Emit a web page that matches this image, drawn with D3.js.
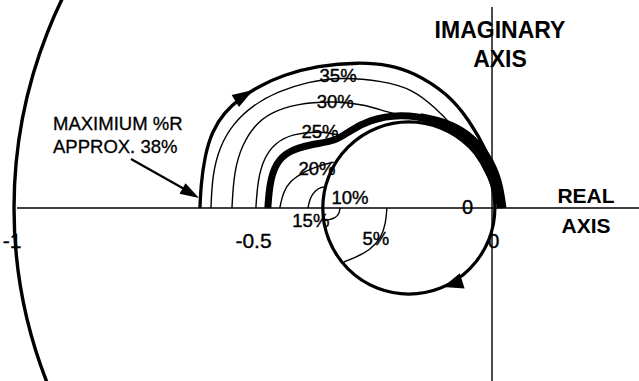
<!DOCTYPE html>
<html>
<head>
<meta charset="utf-8">
<script src="https://cdn.jsdelivr.net/npm/d3@7/dist/d3.min.js"></script>
<style>
  html, body { margin: 0; padding: 0; background: #fff; }
  svg { display: block; }
  text { font-family: "Liberation Sans", Arial, sans-serif; fill: #000; }
</style>
</head>
<body>
<svg id="chart" width="639" height="381"></svg>
<script>
// Complex-plane locus of constant %R curves, per-unit real / imaginary parts.
const tickValues = [-1, -0.5, 0];
const tickLabels = ["-1", "-0.5", "0"];

// Outer locus for the maximum %R (about 38 %).
const curve38 = [[-0.611, 0], [-0.609, 0.048], [-0.601, 0.108], [-0.586, 0.160], [-0.560, 0.200],
  [-0.527, 0.230], [-0.485, 0.256], [-0.437, 0.278], [-0.366, 0.298], [-0.276, 0.305],
  [-0.213, 0.299], [-0.165, 0.284], [-0.094, 0.241], [-0.046, 0.182], [-0.010, 0.117],
  [0.013, 0.059], [0.023, 0]];
const curve35 = [[-0.588, 0], [-0.585, 0.069], [-0.570, 0.128], [-0.542, 0.176], [-0.502, 0.214],
  [-0.448, 0.244], [-0.385, 0.264], [-0.318, 0.274], [-0.228, 0.266], [-0.165, 0.248],
  [-0.119, 0.210], [-0.080, 0.170], [-0.042, 0.125], [-0.006, 0.065], [0.015, 0]];
const curve30 = [[-0.544, 0], [-0.540, 0.075], [-0.523, 0.132], [-0.496, 0.174], [-0.464, 0.199],
  [-0.412, 0.218], [-0.328, 0.224], [-0.266, 0.216], [-0.220, 0.201], [-0.175, 0.190],
  [-0.120, 0.185]];
const curve25 = [[-0.494, 0], [-0.490, 0.059], [-0.477, 0.105], [-0.454, 0.136], [-0.418, 0.155],
  [-0.360, 0.161], [-0.312, 0.151]];
// Heavy locus of the operating characteristic.
const curveMain = [[-0.469, 0], [-0.465, 0.054], [-0.452, 0.094], [-0.427, 0.119], [-0.381, 0.133],
  [-0.326, 0.140], [-0.300, 0.160], [-0.258, 0.184], [-0.192, 0.197], [-0.123, 0.186],
  [-0.056, 0.155], [-0.012, 0.105], [0.011, 0.052], [0.017, 0]];
// Where the high-%R loci crowd together before reaching the origin.
const curveBand = [[-0.150, 0.192], [-0.100, 0.182], [-0.050, 0.158], [-0.008, 0.112],
  [0.016, 0.058], [0.024, 0]];
const curve20 = [[-0.444, 0], [-0.437, 0.033], [-0.423, 0.056], [-0.395, 0.075], [-0.364, 0.088],
  [-0.331, 0.096]];
const arc15 = [[-0.385, 0], [-0.381, 0.021], [-0.370, 0.036], [-0.358, 0.044], [-0.347, 0.044]];
const arc10 = [[-0.318, 0], [-0.320, -0.013], [-0.328, -0.021], [-0.341, -0.025], [-0.351, -0.025]];
const arc5 = [[-0.220, 0], [-0.222, -0.031], [-0.232, -0.063], [-0.255, -0.088], [-0.285, -0.103],
  [-0.310, -0.113]];

// Circle traced as the %R falls to zero.
const circleCenter = -0.174;
const circleRadius = 0.18;
// Unit circle.
const unitRadius = 1;

const W = 639, H = 381;
const svg = d3.select("#chart");

const x = d3.scaleLinear().domain([-1.0293, 0.3075]).range([0, W]);
const y = d3.scaleLinear().domain([0.4351, -0.3619]).range([0, H]);

const line = d3.line()
  .x(d => x(d[0]))
  .y(d => y(d[1]))
  .curve(d3.curveBasis);

function arrowHead(tx, ty, ang, len, halfW) {
  const dx = Math.cos(ang), dy = Math.sin(ang);
  const bx = tx - dx * len, by = ty - dy * len;
  const pts = [[tx, ty], [bx - dy * halfW, by + dx * halfW], [bx + dy * halfW, by - dx * halfW]];
  svg.append("path")
    .attr("d", "M" + pts.map(p => p.join(",")).join("L") + "Z")
    .attr("fill", "#000");
}

// Axes
svg.append("line")
  .attr("x1", x(-1) + 3).attr("x2", W)
  .attr("y1", y(0)).attr("y2", y(0))
  .attr("stroke", "#000").attr("stroke-width", 1.4);
svg.append("line")
  .attr("x1", x(0)).attr("x2", x(0))
  .attr("y1", 7).attr("y2", H)
  .attr("stroke", "#000").attr("stroke-width", 1.4);

// Tick labels on the real axis
const axis = d3.axisBottom(x)
  .tickValues(tickValues)
  .tickFormat((d, i) => tickLabels[i])
  .tickSize(0)
  .tickPadding(25);
const gAxis = svg.append("g").attr("transform", `translate(0,${y(0)})`).call(axis);
gAxis.select(".domain").remove();
gAxis.selectAll("text")
  .attr("font-size", 21)
  .style("font-family", '"Liberation Sans", Arial, sans-serif')
  .attr("fill", "#000").attr("stroke", "#000").attr("stroke-width", 0.35);
gAxis.selectAll(".tick").filter(d => d === -1).select("text").attr("dx", -2.5);
gAxis.selectAll(".tick").filter(d => d === 0).select("text").attr("dx", 1);

// Unit circle
svg.append("circle")
  .attr("cx", x(0)).attr("cy", y(0))
  .attr("r", x(unitRadius) - x(0))
  .attr("fill", "none").attr("stroke", "#000").attr("stroke-width", 3.4);

// Thin constant-%R curves
[curve35, curve30, curve25, curve20, arc15, arc10, arc5].forEach(c => {
  svg.append("path").attr("d", line(c))
    .attr("fill", "none").attr("stroke", "#000").attr("stroke-width", 1.4);
});

// Zero-%R circle
const cxp = x(circleCenter), cyp = y(0), rp = x(circleRadius) - x(0);
svg.append("circle")
  .attr("cx", cxp).attr("cy", cyp).attr("r", rp)
  .attr("fill", "none").attr("stroke", "#000").attr("stroke-width", 3.2);

// Heavy locus and the crowded band next to it
svg.append("path").attr("d", line(curveMain))
  .attr("fill", "none").attr("stroke", "#000").attr("stroke-width", 7)
  .attr("stroke-linejoin", "round");
svg.append("path").attr("d", line(curveBand))
  .attr("fill", "none").attr("stroke", "#000").attr("stroke-width", 6);

// Outer (maximum %R) locus
const outer = svg.append("path").attr("d", line(curve38))
  .attr("fill", "none").attr("stroke", "#000").attr("stroke-width", 3.3);

// Direction arrow on the outer locus
{
  const node = outer.node();
  const L = node.getTotalLength();
  const p1 = node.getPointAtLength(L * 0.29);
  const p0 = node.getPointAtLength(L * 0.29 - 4);
  arrowHead(p1.x, p1.y, Math.atan2(p1.y - p0.y, p1.x - p0.x), 21, 7);
}

// Direction arrow on the zero-%R circle (clockwise)
{
  const th = 66.5 * Math.PI / 180;
  const tx = cxp + rp * Math.cos(th), ty = cyp + rp * Math.sin(th);
  arrowHead(tx, ty, th + Math.PI / 2 + 0.1, 20, 8);
}

// Curve labels
const pctFont = 18.5;
[["35%", -0.322, 0.264], ["30%", -0.328, 0.209], ["25%", -0.360, 0.146], ["20%", -0.366, 0.069],
 ["10%", -0.297, 0.008], ["15%", -0.379, -0.040], ["5%", -0.243, -0.077]].forEach(([t, a, b]) => {
  svg.append("text").attr("x", x(a)).attr("y", y(b))
    .attr("text-anchor", "middle").attr("font-size", pctFont)
    .attr("stroke", "#000").attr("stroke-width", 0.4).text(t);
});
svg.append("text").attr("x", x(-0.051)).attr("y", y(-0.013))
  .attr("text-anchor", "middle").attr("font-size", 20)
  .attr("stroke", "#000").attr("stroke-width", 0.4).text("0");

// Axis titles
const title = svg.append("text").attr("font-weight", "bold").attr("font-size", 23)
  .attr("text-anchor", "middle");
title.append("tspan").attr("x", 500).attr("y", 38).text("IMAGINARY");
title.append("tspan").attr("x", 500).attr("y", 67).text("AXIS");
const rtitle = svg.append("text").attr("font-weight", "bold").attr("font-size", 21)
  .attr("text-anchor", "middle");
rtitle.append("tspan").attr("x", 586).attr("y", 203).text("REAL");
rtitle.append("tspan").attr("x", 586).attr("y", 233).text("AXIS");

// Annotation for the maximum %R
const note = svg.append("text").attr("font-size", 18.5)
  .attr("stroke", "#000").attr("stroke-width", 0.3);
note.append("tspan").attr("x", 53).attr("y", 130).text("MAXIMIUM %R");
note.append("tspan").attr("x", 53).attr("y", 153).text("APPROX. 38%");
svg.append("line").attr("x1", 131).attr("y1", 159).attr("x2", 186).attr("y2", 190)
  .attr("stroke", "#000").attr("stroke-width", 2.2);
arrowHead(199, 198, Math.atan2(198 - 159, 199 - 131), 19, 6);
</script>
</body>
</html>
